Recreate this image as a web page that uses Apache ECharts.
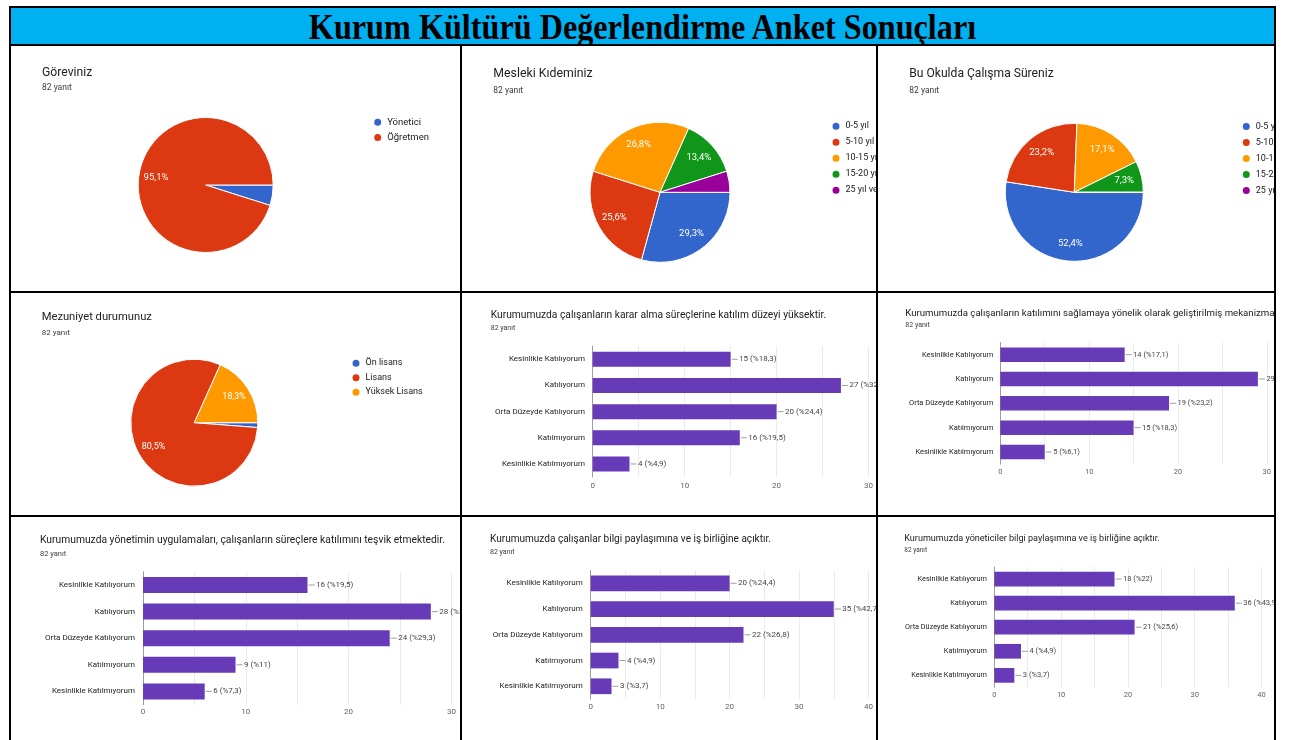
<!DOCTYPE html>
<html lang="tr">
<head>
<meta charset="utf-8">
<title>Kurum Kültürü Değerlendirme Anket Sonuçları</title>
<script src="https://cdn.jsdelivr.net/npm/echarts@6/dist/echarts.min.js"></script>
<style>
  html, body { margin: 0; padding: 0; background: #fff; }
  body { position: relative; width: 1295px; height: 740px; overflow: hidden; font-family: Roboto, Arial, sans-serif; }
  .rule { position: absolute; background: #000; }
  .cell { position: absolute; background: #fff; }
  #banner { position: absolute; left: 11px; top: 8px; width: 1263px; height: 36px; background: #00b0f0; overflow: hidden; }
  #banner div { position: absolute; left: 0; right: 0; top: 0; line-height: 36px; text-align: center;
    font: bold 35px 'Liberation Serif', 'Times New Roman', serif; color: #000; transform: scaleX(0.92); }
</style>
</head>
<body>
<div id="banner"><div>Kurum Kültürü Değerlendirme Anket Sonuçları</div></div>

<!-- table rules -->
<div class="rule" style="left:9px;top:6px;width:1267px;height:2px"></div>
<div class="rule" style="left:9px;top:44px;width:1267px;height:2px"></div>
<div class="rule" style="left:9px;top:291px;width:1267px;height:2px"></div>
<div class="rule" style="left:9px;top:515px;width:1267px;height:2px"></div>
<div class="rule" style="left:9px;top:6px;width:2px;height:734px"></div>
<div class="rule" style="left:1274px;top:6px;width:2px;height:734px"></div>
<div class="rule" style="left:460px;top:44px;width:2px;height:696px"></div>
<div class="rule" style="left:876px;top:44px;width:2px;height:696px"></div>

<!-- chart cells -->
<div class="cell" id="c1" style="left:11px;top:46px;width:449px;height:245px"></div>
<div class="cell" id="c2" style="left:462px;top:46px;width:414px;height:245px"></div>
<div class="cell" id="c3" style="left:878px;top:46px;width:396px;height:245px"></div>
<div class="cell" id="c4" style="left:11px;top:293px;width:449px;height:222px"></div>
<div class="cell" id="c5" style="left:462px;top:293px;width:414px;height:222px"></div>
<div class="cell" id="c6" style="left:878px;top:293px;width:396px;height:222px"></div>
<div class="cell" id="c7" style="left:11px;top:517px;width:449px;height:223px"></div>
<div class="cell" id="c8" style="left:462px;top:517px;width:414px;height:223px"></div>
<div class="cell" id="c9" style="left:878px;top:517px;width:396px;height:223px"></div>

<script>
// ---- survey data (82 respondents) ----
const RESPONSES = 82;
const responseText = '82 yanıt';

const gorevNames = ['Yönetici', 'Öğretmen'];
const gorevCounts = [4, 78];

const kidemNames = ['0-5 yıl', '5-10 yıl', '10-15 yıl', '15-20 yıl', '25 yıl ve üzeri'];
const kidemCounts = [24, 21, 22, 11, 4];

const okulSureNames = ['0-5 yıl', '5-10 yıl', '10-15 yıl', '15-20 yıl', '25 yıl ve üzeri'];
const okulSureCounts = [43, 19, 14, 6, 0];

const mezuniyetNames = ['Ön lisans', 'Lisans', 'Yüksek Lisans'];
const mezuniyetCounts = [1, 66, 15];

const likertNames = ['Kesinlikle Katılıyorum', 'Katılıyorum', 'Orta Düzeyde Katılıyorum', 'Katılmıyorum', 'Kesinlikle Katılmıyorum'];
const kararAlmaCounts = [15, 27, 20, 16, 4];
const mekanizmaCounts = [14, 29, 19, 15, 5];
const yonetimTesvikCounts = [16, 28, 24, 9, 6];
const calisanPaylasimCounts = [20, 35, 22, 4, 3];
const yoneticiPaylasimCounts = [18, 36, 21, 4, 3];

// ---- styling ----
const FONT = 'Roboto, Arial, sans-serif';
const pieColors = ['#3366cc', '#dc3912', '#ff9900', '#109618', '#990099'];
const barColor = '#673ab7';

// percentage of respondents, Turkish decimal comma, trailing ",0" dropped
function pct(v) {
  return String(Math.round(v / RESPONSES * 1000) / 10).replace('.', ',');
}

function headerTexts(c, ox, oy) {
  return [
    { type: 'text', x: c.textX - ox, y: c.titleY - oy, silent: true,
      style: { text: c.title, fill: '#202124', fontSize: c.titleFont, fontFamily: FONT, verticalAlign: 'middle' } },
    { type: 'text', x: c.textX - ox, y: c.subY - oy, silent: true,
      style: { text: responseText, fill: '#3c4043', fontSize: c.subFont, fontFamily: FONT, verticalAlign: 'middle' } }
  ];
}

function pieOption(c, el) {
  const ox = el.offsetLeft, oy = el.offsetTop;
  const data = c.names.map((n, i) => ({ name: n, value: c.values[i] }));
  const center = [c.center[0] - ox, c.center[1] - oy];
  return {
    animation: false,
    color: pieColors,
    graphic: headerTexts(c, ox, oy),
    legend: {
      orient: 'vertical', icon: 'circle', selectedMode: false, padding: 0,
      left: c.legendX - 4.5 - ox, top: c.legendY - 5 - oy,
      itemWidth: 9, itemHeight: 9, itemGap: c.legendStep - 10,
      data: c.names,
      textStyle: { fontSize: c.legendFont, fontFamily: FONT, color: '#202124', lineHeight: 10 }
    },
    series: [
      { type: 'pie', center: center, radius: [0, c.r], startAngle: 0, clockwise: true,
        silent: true, label: { show: false }, labelLine: { show: false },
        itemStyle: { borderColor: '#fff', borderWidth: 1 }, data: data },
      // label ring: places percentage texts at ~0.7 of the radius
      { type: 'pie', center: center, radius: [c.r * 0.4, c.r], startAngle: 0, clockwise: true,
        silent: true, labelLine: { show: false },
        itemStyle: { color: 'rgba(0,0,0,0)', borderWidth: 0 },
        label: { show: true, position: 'inside', color: '#fff', fontSize: c.labelFont, fontFamily: FONT,
          formatter: p => (p.value / RESPONSES >= 0.05 ? pct(p.value) + '%' : '') },
        data: data }
    ]
  };
}

function barOption(c, el) {
  const ox = el.offsetLeft, oy = el.offsetTop;
  const plotBottom = c.top + c.band * likertNames.length;
  return {
    animation: false,
    graphic: headerTexts(c, ox, oy),
    grid: { left: c.x0 - ox, top: c.top - oy, width: c.unit * c.max, height: c.band * likertNames.length, containLabel: false },
    xAxis: {
      type: 'value', min: 0, max: c.max, interval: 5,
      axisLine: { show: false }, axisTick: { show: false },
      splitLine: { lineStyle: { color: '#ebebeb', width: 1 } },
      axisLabel: { fontSize: c.tickFont, fontFamily: FONT, color: '#5f6368',
        margin: c.tickY - plotBottom - c.tickFont * 0.6,
        formatter: v => (v % 10 === 0 ? String(v) : '') }
    },
    yAxis: {
      type: 'category', inverse: true, data: likertNames,
      axisLine: { show: true, lineStyle: { color: '#9e9e9e', width: 1 } },
      axisTick: { show: false },
      axisLabel: { interval: 0, fontSize: c.catFont, fontFamily: FONT, color: '#222', margin: c.x0 - c.catRight }
    },
    series: [{
      type: 'bar', data: c.values, barWidth: c.barW,
      itemStyle: { color: barColor },
      label: {
        show: true, position: 'right', distance: 1,
        formatter: p => '{l|}{t|' + p.value + ' (%' + pct(p.value) + ')}',
        rich: {
          l: { width: 6, height: 1, backgroundColor: '#9e9e9e', verticalAlign: 'middle' },
          t: { fontSize: c.valFont, fontFamily: FONT, color: '#444', padding: [0, 0, 0, 1.5] }
        }
      }
    }]
  };
}

// ---- layout (page coordinates) ----
const pieCells = [
  { id: 'c1', title: 'Göreviniz', names: gorevNames, values: gorevCounts,
    textX: 42, titleY: 72.7, subY: 88, titleFont: 12.2, subFont: 8.5,
    center: [205.7, 185], r: 67.5, labelFont: 9.5,
    legendX: 376.7, legendY: 121.7, legendStep: 14.3, legendFont: 9.5 },
  { id: 'c2', title: 'Mesleki Kıdeminiz', names: kidemNames, values: kidemCounts,
    textX: 493.3, titleY: 74, subY: 91.3, titleFont: 12.3, subFont: 8.5,
    center: [660, 192.3], r: 70, labelFont: 9.5,
    legendX: 835, legendY: 125.7, legendStep: 15, legendFont: 9 },
  { id: 'c3', title: 'Bu Okulda Çalışma Süreniz', names: okulSureNames, values: okulSureCounts,
    textX: 909.3, titleY: 74, subY: 91, titleFont: 12.1, subFont: 8.5,
    center: [1074.3, 192.3], r: 69, labelFont: 9.5,
    legendX: 1245.3, legendY: 126, legendStep: 15, legendFont: 9 },
  { id: 'c4', title: 'Mezuniyet durumunuz', names: mezuniyetNames, values: mezuniyetCounts,
    textX: 41.7, titleY: 316.7, subY: 332.7, titleFont: 11.2, subFont: 8,
    center: [194.3, 422.7], r: 63.5, labelFont: 9,
    legendX: 355, legendY: 362.7, legendStep: 13.5, legendFont: 9 }
];

const barCells = [
  { id: 'c5', title: 'Kurumumuzda çalışanların karar alma süreçlerine katılım düzeyi yüksektir.', values: kararAlmaCounts,
    textX: 490.7, titleY: 315, subY: 328.3, titleFont: 10.25, subFont: 7,
    x0: 592.7, unit: 10.2, max: 30, top: 346.2, band: 26.17, barW: 15,
    catFont: 8, catRight: 585, tickFont: 8, tickY: 486.7, valFont: 8 },
  { id: 'c6', title: 'Kurumumuzda çalışanların katılımını sağlamaya yönelik olarak geliştirilmiş mekanizmalar vardır.', values: mekanizmaCounts,
    textX: 905.3, titleY: 313.3, subY: 325, titleFont: 9.65, subFont: 7,
    x0: 1000.3, unit: 9.42, max: 30, top: 342.5, band: 24.33, barW: 14.5,
    catFont: 7.5, catRight: 993.3, tickFont: 7.5, tickY: 472.7, valFont: 7.5 },
  { id: 'c7', title: 'Kurumumuzda yönetimin uygulamaları, çalışanların süreçlere katılımını teşvik etmektedir.', values: yonetimTesvikCounts,
    textX: 40, titleY: 540, subY: 554, titleFont: 10.3, subFont: 7.5,
    x0: 143, unit: 10.28, max: 30, top: 571.7, band: 26.6, barW: 16,
    catFont: 8, catRight: 135, tickFont: 8, tickY: 712.3, valFont: 8 },
  { id: 'c8', title: 'Kurumumuzda çalışanlar bilgi paylaşımına ve iş birliğine açıktır.', values: calisanPaylasimCounts,
    textX: 490, titleY: 539, subY: 552.3, titleFont: 10.05, subFont: 7,
    x0: 590.7, unit: 7.49, max: 40, top: 570.4, band: 25.75, barW: 15.7,
    catFont: 8, catRight: 582.7, tickFont: 8, tickY: 707.7, valFont: 8 },
  { id: 'c9', title: 'Kurumumuzda yöneticiler bilgi paylaşımına ve iş birliğine açıktır.', values: yoneticiPaylasimCounts,
    textX: 904.3, titleY: 538.3, subY: 550.7, titleFont: 9.05, subFont: 6.5,
    x0: 994.3, unit: 6.68, max: 40, top: 567, band: 24.08, barW: 14.7,
    catFont: 7.3, catRight: 987, tickFont: 7.5, tickY: 696, valFont: 7.5 }
];

pieCells.forEach(c => {
  const el = document.getElementById(c.id);
  echarts.init(el, null, { renderer: 'canvas' }).setOption(pieOption(c, el));
});
barCells.forEach(c => {
  const el = document.getElementById(c.id);
  echarts.init(el, null, { renderer: 'canvas' }).setOption(barOption(c, el));
});
</script>
</body>
</html>
